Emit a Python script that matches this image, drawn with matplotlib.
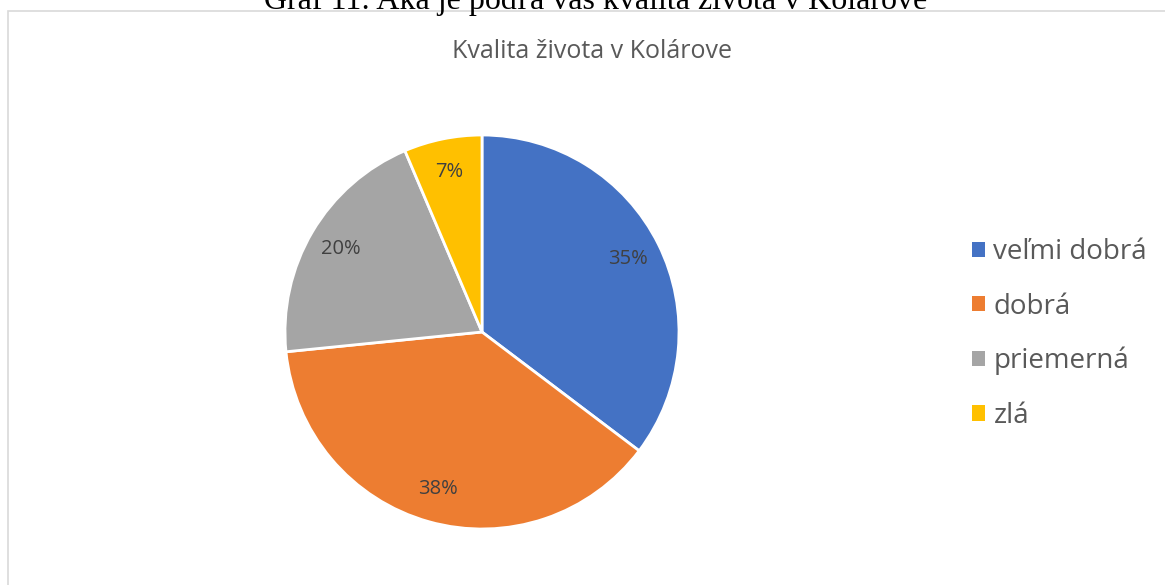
import matplotlib.pyplot as plt
from matplotlib.patches import Rectangle, Patch
import numpy as np

# data
labels = ['veľmi dobrá', 'dobrá', 'priemerná', 'zlá']
shares = [35.3, 38.1, 20.2, 6.4]
pct_text = ['35%', '38%', '20%', '7%']
colors = ['#4472C4', '#ED7D31', '#A5A5A5', '#FFC000']

caption = 'Graf 11: Aká je podľa vás kvalita života v Kolárove'
title = 'Kvalita života v Kolárove'

W, H = 1165, 585
fig = plt.figure(figsize=(W / 100, H / 100), dpi=100)

# chart frame (only left and top visible)
fig.add_artist(Rectangle((8 / W, -0.1), 1.2, (H - 11) / H + 0.1, transform=fig.transFigure,
                         fill=False, edgecolor='#D9D9D9', linewidth=1.2))

# caption cut off at the top
fig.text(596 / W, 1 - 9 / H, caption, ha='center', va='baseline',
         fontsize=23, family='Liberation Serif', color='black')

fig.text(592 / W, 1 - 52 / H, title, ha='center', va='center',
         fontsize=18, family='Open Sans', color='#595959')

cx, cy, r = 482, 332, 197
ax = fig.add_axes([(cx - r) / W, (H - cy - r) / H, 2 * r / W, 2 * r / H])
wedges, texts = ax.pie(shares, colors=colors, startangle=90, counterclock=False,
                       radius=1, wedgeprops=dict(edgecolor='white', linewidth=2))
ax.set_xlim(-1.0, 1.0)
ax.set_ylim(-1.0, 1.0)
ax.axis('off')

for w, t in zip(wedges, pct_text):
    mid = np.deg2rad((w.theta1 + w.theta2) / 2)
    ax.text(0.83 * np.cos(mid), 0.83 * np.sin(mid), t, ha='center', va='center',
            fontsize=14.5, family='Open Sans', color='#404040')

handles = [Patch(facecolor=c, edgecolor='none') for c in colors]
fig.legend(handles, labels, loc='center left', bbox_to_anchor=(972 / W, 1 - 334 / H),
           frameon=False, labelcolor='#595959', handlelength=0.47,
           handleheight=0.47, handletextpad=0.3, labelspacing=0.95, borderpad=0,
           borderaxespad=0, prop=dict(family='Open Sans', size=20))

fig.savefig('out.png', dpi=100)
